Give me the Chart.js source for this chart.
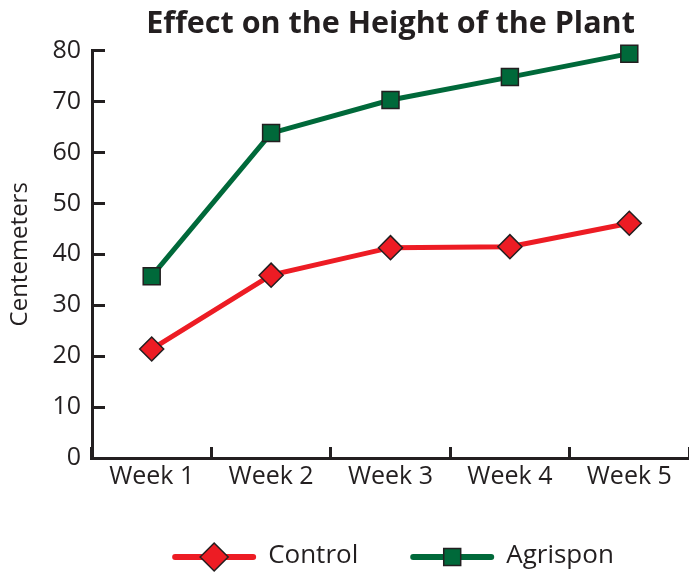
<!DOCTYPE html>
<html>
<head>
<meta charset="utf-8">
<script src="https://cdn.jsdelivr.net/npm/chart.js@4.4.0/dist/chart.umd.min.js"></script>
<style>
    html, body { margin: 0; padding: 0; background: #ffffff; }
</style>
</head>
<body>
<canvas id="myChart" width="689" height="574"></canvas>
<script>
// Datos
const weeks = ['Week 1', 'Week 2', 'Week 3', 'Week 4', 'Week 5'];
const controlHeights = [21.4, 35.9, 41.3, 41.5, 46.1];
const agrisponHeights = [35.7, 63.8, 70.3, 74.8, 79.4];
const yMin = 0;
const yMax = 80;
const yStep = 10;

const ink = '#231f20';
const red = '#ed1c24';
const green = '#00693a';
const font = "'Open Sans', 'DejaVu Sans', sans-serif";

// Leyenda dibujada a mano: línea + marcador + texto
const lineLegend = {
    id: 'lineLegend',
    afterDraw(chart) {
        const ctx = chart.ctx;
        const area = chart.chartArea;
        const lineLen = 78;
        const gapText = 15;
        const gapItems = 55;
        ctx.save();
        ctx.font = '26px ' + font;
        const items = chart.data.datasets.map(ds => ({
            ds,
            w: lineLen + gapText + ctx.measureText(ds.label).width
        }));
        const total = items.reduce((s, it) => s + it.w, 0) + gapItems * (items.length - 1);
        let x = (area.left + area.right) / 2 + 4 - total / 2;
        const y = 557;
        items.forEach(it => {
            const ds = it.ds;
            ctx.strokeStyle = ds.borderColor;
            ctx.lineWidth = 6;
            ctx.lineCap = 'round';
            ctx.beginPath();
            ctx.moveTo(x, y);
            ctx.lineTo(x + lineLen, y);
            ctx.stroke();

            ctx.fillStyle = ds.pointBackgroundColor;
            ctx.strokeStyle = ds.pointBorderColor;
            ctx.lineWidth = ds.pointBorderWidth;
            Chart.helpers.drawPoint(ctx, {
                pointStyle: ds.pointStyle,
                radius: ds.pointStyle === 'rectRot' ? 14 : 12,
                rotation: 0,
                borderWidth: ds.pointBorderWidth
            }, x + lineLen / 2, y);

            ctx.fillStyle = ink;
            ctx.textAlign = 'left';
            ctx.textBaseline = 'middle';
            ctx.fillText(ds.label, x + lineLen + gapText, y - 1);
            x += it.w + gapItems;
        });
        ctx.restore();
    }
};

new Chart(document.getElementById('myChart'), {
    type: 'line',
    data: {
        labels: weeks,
        datasets: [
            {
                label: 'Control',
                data: controlHeights,
                borderColor: red,
                borderWidth: 5,
                pointStyle: 'rectRot',
                pointRadius: 12,
                pointHoverRadius: 12,
                pointBackgroundColor: red,
                pointBorderColor: ink,
                pointBorderWidth: 1.5,
                tension: 0,
                clip: false
            },
            {
                label: 'Agrispon',
                data: agrisponHeights,
                borderColor: green,
                borderWidth: 5,
                pointStyle: 'rect',
                pointRadius: 12,
                pointHoverRadius: 12,
                pointBackgroundColor: green,
                pointBorderColor: ink,
                pointBorderWidth: 1.5,
                tension: 0,
                clip: false
            }
        ]
    },
    options: {
        responsive: false,
        animation: false,
        devicePixelRatio: 1,
        layout: {
            autoPadding: false,
            padding: { top: 0, right: -3, bottom: 76, left: 0 }
        },
        plugins: {
            legend: { display: false },
            tooltip: { enabled: false },
            title: {
                display: true,
                text: 'Effect on the Height of the Plant',
                color: ink,
                fullSize: false,
                font: { family: font, size: 30.5, weight: 'bold' },
                padding: { top: 6, bottom: 8 }
            }
        },
        scales: {
            x: {
                offset: true,
                grid: {
                    offset: true,
                    drawOnChartArea: false,
                    tickLength: -11,
                    color: ink,
                    lineWidth: 3
                },
                border: { color: ink, width: 3 },
                ticks: {
                    color: ink,
                    padding: 15,
                    font: { family: font, size: 25 }
                },
                afterFit(scale) {
                    scale.height = 40;
                    scale.paddingLeft = 0;
                    scale.paddingRight = 0;
                }
            },
            y: {
                min: yMin,
                max: yMax,
                grid: {
                    drawOnChartArea: false,
                    tickLength: -13,
                    color: ink,
                    lineWidth: 3
                },
                border: { color: ink, width: 3 },
                ticks: {
                    stepSize: yStep,
                    color: ink,
                    padding: 24,
                    font: { family: font, size: 25 }
                },
                title: {
                    display: true,
                    text: 'Centemeters',
                    color: ink,
                    font: { family: font, size: 24 },
                    padding: { top: 6, bottom: 0 }
                },
                afterFit(scale) {
                    scale.width = 92;
                    scale.paddingTop = 0;
                    scale.paddingBottom = 0;
                }
            }
        }
    },
    plugins: [lineLegend]
});
</script>
</body>
</html>
